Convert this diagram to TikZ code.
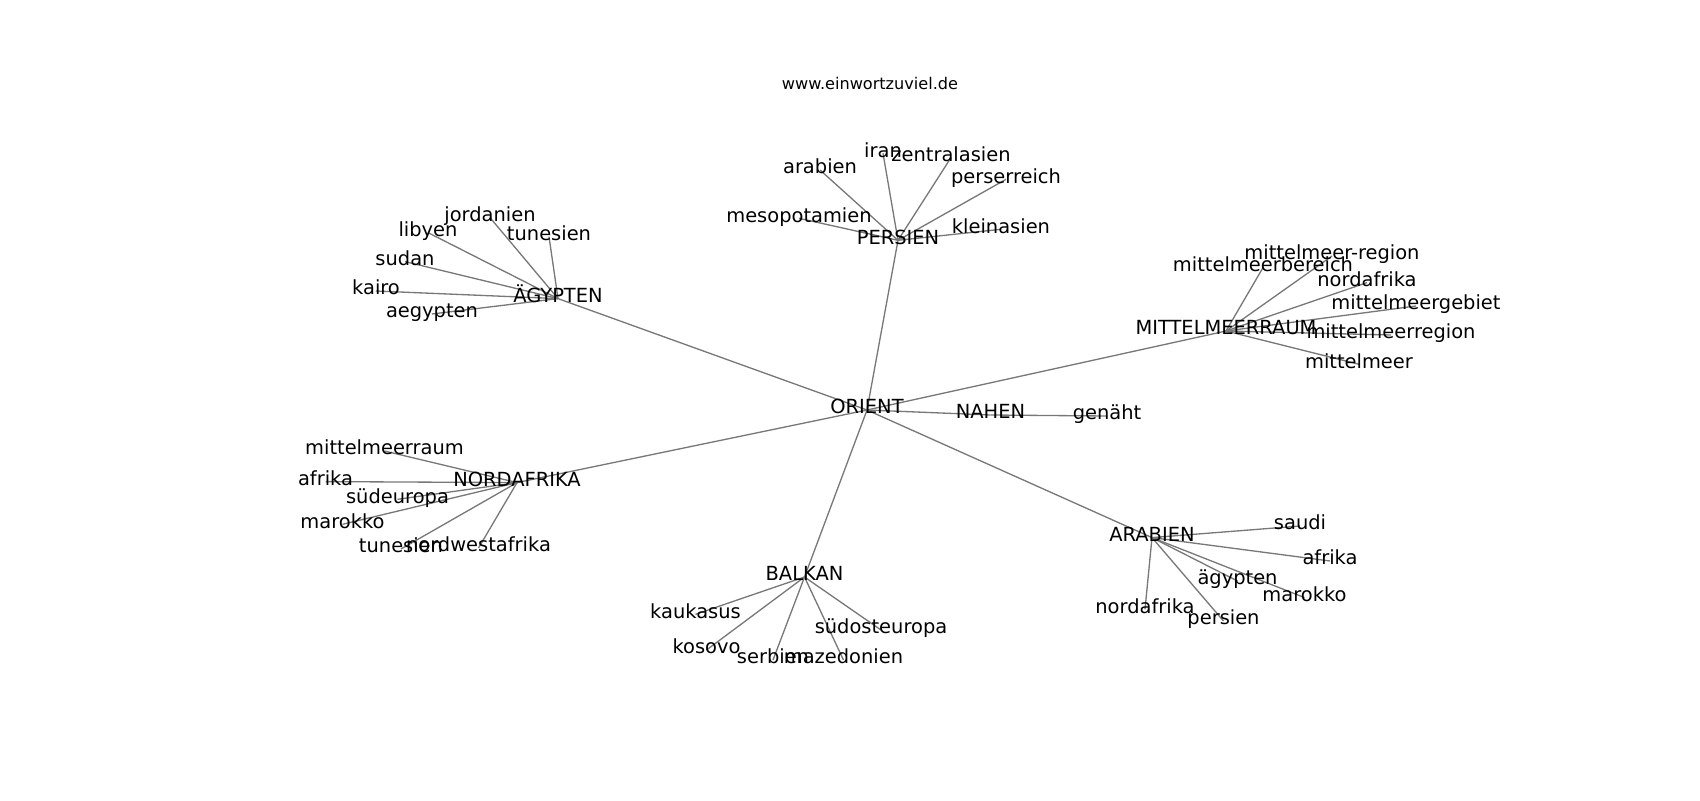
\documentclass[tikz,border=0pt]{standalone}
\usepackage{fontspec}
\setmainfont{DejaVu Sans}
\pgfdeclarelayer{background}
\pgfsetlayers{background,main}
\begin{document}
\begin{tikzpicture}[x=0.72pt,y=-0.72pt,
  lbl/.style={inner sep=0pt,anchor=center,font=\fontsize{14}{16}\selectfont,text height=0.76em,text depth=0.208em},
  ttl/.style={inner sep=0pt,anchor=center,font=\fontsize{11.6}{14}\selectfont,text height=0.76em,text depth=0.208em},
  edge/.style={draw={rgb,255:red,120;green,120;blue,120},line width=0.95pt}]
\path[use as bounding box] (0,0) rectangle (1700,800);
\begin{scope}[shift={(0,3)}]
\node[ttl] (title) at (870,82.5) {www.einwortzuviel.de};
% hubs
\node[lbl] (orient) at (867,407) {ORIENT};
\node[lbl] (nahen) at (990.5,412) {NAHEN};
\node[lbl] (genaeht) at (1107,413) {genäht};
\node[lbl] (aeg) at (558,295.6) {ÄGYPTEN};
\node[lbl] (pers) at (898,237.3) {PERSIEN};
\node[lbl] (mmr) at (1226,328) {MITTELMEERRAUM};
\node[lbl] (nafr) at (517,479.6) {NORDAFRIKA};
\node[lbl] (balk) at (804.5,574) {BALKAN};
\node[lbl] (arab) at (1152,534.6) {ARABIEN};
% aegypten
\node[lbl] (jord) at (490,214.6) {jordanien};
\node[lbl] (liby) at (428,229.6) {libyen};
\node[lbl] (tunA) at (549,233.6) {tunesien};
\node[lbl] (suda) at (405,258.6) {sudan};
\node[lbl] (kair) at (376,288) {kairo};
\node[lbl] (aegy) at (432,311) {aegypten};
% persien
\node[lbl] (arabA) at (820,167) {arabien};
\node[lbl] (iran) at (883,150.3) {iran};
\node[lbl] (zent) at (951,154.6) {zentralasien};
\node[lbl] (perr) at (1006,176.3) {perserreich};
\node[lbl] (meso) at (799,215.3) {mesopotamien};
\node[lbl] (klei) at (1001,226.3) {kleinasien};
% mittelmeerraum
\node[lbl] (mreg) at (1332,253) {mittelmeer-region};
\node[lbl] (mber) at (1263,264.6) {mittelmeerbereich};
\node[lbl] (nafA) at (1367,279.6) {nordafrika};
\node[lbl] (mgeb) at (1416,303) {mittelmeergebiet};
\node[lbl] (mrgn) at (1391,332) {mittelmeerregion};
\node[lbl] (mmee) at (1359,361.3) {mittelmeer};
% nordafrika
\node[lbl] (mmra) at (384.5,448) {mittelmeerraum};
\node[lbl] (afrA) at (325.5,478.6) {afrika};
\node[lbl] (suedeu) at (397.5,496.3) {südeuropa};
\node[lbl] (marA) at (342.5,521.3) {marokko};
\node[lbl] (tunB) at (401,546) {tunesien};
\node[lbl] (nwaf) at (478.5,545) {nordwestafrika};
% balkan
\node[lbl] (kauk) at (695.5,611.3) {kaukasus};
\node[lbl] (koso) at (706.5,647) {kosovo};
\node[lbl] (serb) at (773,657) {serbien};
\node[lbl] (maze) at (843.5,657) {mazedonien};
\node[lbl] (suedoe) at (881,627) {südosteuropa};
% arabien
\node[lbl] (saud) at (1300,523) {saudi};
\node[lbl] (afrB) at (1330,558) {afrika};
\node[lbl] (aegB) at (1237.5,578) {ägypten};
\node[lbl] (marB) at (1304.5,594.6) {marokko};
\node[lbl] (nafB) at (1145,606.3) {nordafrika};
\node[lbl] (persB) at (1223.5,618) {persien};
\end{scope}
\begin{pgfonlayer}{background}
\foreach \h in {aeg,pers,mmr,nafr,balk,arab,nahen}
  \draw[edge] (orient.center) -- (\h.center);
\draw[edge] (nahen.center) -- (genaeht.center);
\foreach \l in {jord,liby,tunA,suda,kair,aegy}
  \draw[edge] (aeg.center) -- (\l.center);
\foreach \l in {arabA,iran,zent,perr,meso,klei}
  \draw[edge] (pers.center) -- (\l.center);
\foreach \l in {mreg,mber,nafA,mgeb,mrgn,mmee}
  \draw[edge] (mmr.center) -- (\l.center);
\foreach \l in {mmra,afrA,suedeu,marA,tunB,nwaf}
  \draw[edge] (nafr.center) -- (\l.center);
\foreach \l in {kauk,koso,serb,maze,suedoe}
  \draw[edge] (balk.center) -- (\l.center);
\foreach \l in {saud,afrB,aegB,marB,nafB,persB}
  \draw[edge] (arab.center) -- (\l.center);
\end{pgfonlayer}
\end{tikzpicture}
\end{document}
